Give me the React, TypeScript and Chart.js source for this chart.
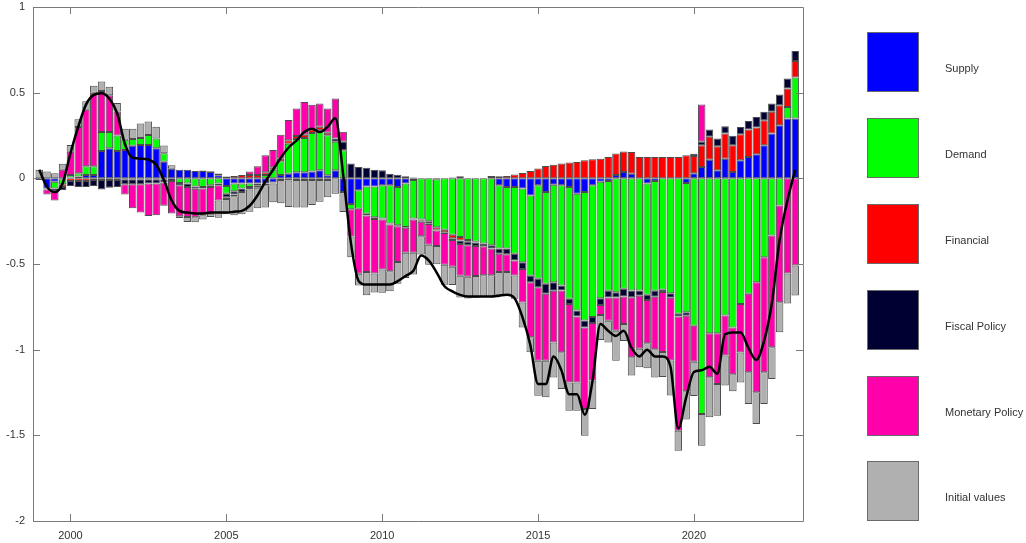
import React, { useEffect, useRef } from "react";
import { Chart, registerables } from "chart.js";

Chart.register(...registerables);

// Quarterly observations, 1999Q1 .. 2023Q2
const firstYear = 1999;
const quarterCount = 98;
const quarters: number[] = Array.from({ length: quarterCount }, (_, i) => firstYear + i * 0.25);

const seriesNames = ["Supply", "Demand", "Financial", "Fiscal Policy", "Monetary Policy", "Initial values"];
const seriesColors = ["#0000ff", "#00ff00", "#ff0000", "#000033", "#ff00aa", "#b0b0b0"];

const supply = [
  -0.01, -0.06, -0.02, -0.005, 0.005, 0.01, 0.02, 0.02, 0.16, 0.175,
  0.16, 0.165, 0.19, 0.195, 0.195, 0.175, 0.097, 0.056, 0.05, 0.05,
  0.043, 0.043, 0.037, 0.018, -0.045, -0.03, -0.03, -0.03, -0.03, -0.03,
  -0.025, 0.02, 0.027, 0.035, 0.035, 0.04, 0.047, 0.018, 0.047, -0.08,
  -0.15, -0.07, -0.047, -0.047, -0.04, -0.04, -0.05, -0.03, -0.01, 0,
  0, -0.005, 0, 0.005, 0.012, 0, 0, 0, 0.008, -0.04,
  -0.05, -0.05, -0.06, -0.1, -0.04, -0.08, -0.037, -0.04, -0.05, -0.09,
  -0.08, -0.04, -0.02, -0.016, 0.02, 0.037, 0.027, 0, -0.03, -0.016,
  0, 0, 0, -0.027, 0.03, 0.066, 0.109, 0.047, 0.115, 0.037,
  0.105, 0.125, 0.14, 0.193, 0.261, 0.31, 0.349, 0.349,
];

const demand = [
  0, 0, -0.04, -0.03, 0.015, 0.02, 0.05, 0.05, 0.11, 0.095,
  0.09, 0.06, 0.04, 0.04, 0.058, 0.058, 0.05, 0, -0.027, -0.03,
  -0.047, -0.05, -0.04, -0.03, -0.045, -0.045, -0.03, -0.02, -0.01, 0.02,
  0.05, 0.08, 0.175, 0.195, 0.2, 0.225, 0.234, 0.234, 0.166, 0.164,
  -0.03, -0.107, -0.16, -0.18, -0.195, -0.224, -0.224, -0.254, -0.225, -0.24,
  -0.25, -0.28, -0.3, -0.33, -0.343, -0.36, -0.37, -0.38, -0.39, -0.37,
  -0.36, -0.39, -0.43, -0.468, -0.546, -0.536, -0.57, -0.585, -0.653, -0.682,
  -0.75, -0.77, -0.68, -0.64, -0.665, -0.645, -0.655, -0.655, -0.65, -0.64,
  -0.65, -0.67, -0.79, -0.755, -0.86, -1.376, -0.904, -0.904, -0.8, -0.87,
  -0.733, -0.674, -0.606, -0.46, -0.333, -0.158, 0.068, 0.239,
];

const financial = [
  0, 0, -0.01, -0.015, -0.015, -0.015, -0.015, -0.01, -0.01, -0.01,
  -0.01, -0.005, -0.005, -0.005, -0.005, -0.005, -0.005, 0, 0, 0,
  0, 0.003, 0.005, 0.01, 0.01, 0.014, 0.02, 0.02, 0.02, 0.015,
  0.015, 0.015, 0.02, 0.017, 0.02, 0.02, 0.02, 0.014, 0, 0,
  0, 0, -0.01, -0.01, -0.005, -0.005, -0.005, -0.005, -0.005, -0.005,
  -0.012, -0.015, -0.014, -0.02, -0.02, -0.01, -0.005, 0, 0.005, 0.012,
  0.014, 0.023, 0.031, 0.043, 0.057, 0.072, 0.08, 0.086, 0.092, 0.096,
  0.105, 0.111, 0.115, 0.125, 0.125, 0.12, 0.127, 0.125, 0.125, 0.125,
  0.125, 0.125, 0.125, 0.135, 0.1, 0.127, 0.133, 0.14, 0.146, 0.156,
  0.152, 0.16, 0.156, 0.146, 0.127, 0.117, 0.107, 0.097,
];

const fiscal = [
  0, -0.005, -0.01, -0.02, -0.03, -0.035, -0.035, -0.035, -0.055, -0.045,
  -0.04, -0.03, -0.03, -0.03, -0.025, -0.025, -0.02, -0.015, -0.014, -0.02,
  -0.014, -0.01, -0.01, -0.01, -0.02, -0.02, -0.02, -0.015, -0.015, -0.01,
  -0.005, -0.01, -0.012, -0.01, -0.01, -0.01, -0.01, -0.01, 0.02, 0.05,
  0.086, 0.066, 0.062, 0.05, 0.047, 0.027, 0.021, 0.012, 0.005, -0.008,
  -0.005, -0.005, -0.005, -0.01, -0.02, -0.02, -0.02, -0.016, -0.02, -0.03,
  -0.033, -0.039, -0.039, -0.039, -0.049, -0.058, -0.049, -0.03, -0.03, -0.035,
  -0.04, -0.035, -0.04, -0.039, -0.03, -0.045, -0.039, -0.03, -0.03, -0.035,
  -0.014, -0.027, -0.016, -0.02, 0.014, 0.02, 0.043, 0.045, 0.043, 0.055,
  0.043, 0.049, 0.062, 0.049, 0.049, 0.062, 0.058, 0.058,
];

const monetary = [
  0, -0.03, -0.05, 0.05, 0.135, 0.27, 0.33, 0.43, 0.24, 0.215,
  0.14, -0.06, -0.14, -0.165, -0.19, -0.185, -0.135, -0.19, -0.18, -0.175,
  -0.166, -0.156, -0.156, -0.09, -0.01, -0.01, 0, 0.02, 0.05, 0.1,
  0.1, 0.14, 0.118, 0.16, 0.19, 0.145, 0.136, 0.142, 0.233, 0.058,
  -0.16, -0.38, -0.33, -0.318, -0.292, -0.273, -0.21, -0.146, -0.195, -0.085,
  -0.12, -0.09, -0.185, -0.156, -0.185, -0.185, -0.175, -0.17, -0.156, -0.107,
  -0.103, -0.088, -0.195, -0.32, -0.429, -0.39, -0.302, -0.36, -0.458, -0.384,
  -0.477, -0.335, -0.058, -0.136, -0.195, -0.16, -0.35, -0.31, -0.253, -0.306,
  -0.35, -0.366, -0.667, -0.44, -0.21, 0.218, -0.257, -0.296, -0.234, -0.273,
  -0.283, -0.458, -0.643, -0.672, -0.653, -0.565, -0.556, -0.509,
];

const initialValues = [
  0.05, 0.04, 0.03, 0.035, 0.04, 0.045, 0.05, 0.04, 0.055, 0.05,
  0.05, 0.065, 0.06, 0.085, 0.078, 0.068, 0.045, 0.02, -0.01, -0.03,
  -0.03, -0.025, -0.02, -0.1, -0.09, -0.11, -0.13, -0.13, -0.12, -0.13,
  -0.11, -0.135, -0.156, -0.16, -0.16, -0.145, -0.127, -0.1, -0.09, -0.117,
  -0.12, -0.068, -0.136, -0.111, -0.136, -0.117, -0.127, -0.146, -0.127, -0.107,
  -0.117, -0.107, -0.117, -0.107, -0.127, -0.127, -0.127, -0.127, -0.127, -0.136,
  -0.136, -0.136, -0.146, -0.088, -0.205, -0.214, -0.205, -0.214, -0.166, -0.166,
  -0.156, -0.166, -0.146, -0.127, -0.175, -0.1, -0.107, -0.107, -0.146, -0.166,
  -0.146, -0.205, -0.117, -0.166, -0.2, -0.185, -0.234, -0.185, -0.175, -0.1,
  -0.175, -0.185, -0.185, -0.185, -0.185, -0.175, -0.175, -0.175,
];

const totalLine = [
  0.05, -0.05, -0.08, -0.03, 0.145, 0.3, 0.43, 0.487, 0.497, 0.465,
  0.38, 0.2, 0.12, 0.115, 0.11, 0.08, -0.01, -0.13, -0.19, -0.2,
  -0.205, -0.205, -0.2, -0.2, -0.2, -0.195, -0.19, -0.16, -0.1, -0.02,
  0.05, 0.12, 0.18, 0.22, 0.27, 0.29, 0.27, 0.3, 0.35, 0.02,
  -0.38, -0.6, -0.62, -0.62, -0.62, -0.62, -0.6, -0.57, -0.54, -0.45,
  -0.48, -0.55, -0.63, -0.66, -0.68, -0.69, -0.69, -0.69, -0.69, -0.685,
  -0.68, -0.7, -0.81, -0.97, -1.2, -1.2, -1.04, -1.12, -1.26, -1.26,
  -1.38, -1.18, -0.85, -0.89, -0.92, -0.89, -0.99, -1.04, -1.0, -1.04,
  -1.04, -1.1, -1.46, -1.28, -1.13, -1.12, -1.1, -1.14, -0.91, -0.9,
  -0.9, -0.99, -1.06, -0.95, -0.73, -0.36, -0.13, 0.05,
];

const seriesValues = [supply, demand, financial, fiscal, monetary, initialValues];

const yTickValues = [-2, -1.5, -1, -0.5, 0, 0.5, 1];
const xTickValues = [2000, 2005, 2010, 2015, 2020];
const xMin = 1998.8;
const xMax = 2023.5;

const AXIS_COLOR = "#7a7a7a";
const TEXT_COLOR = "#333333";
const FONT = "'Liberation Sans', Arial, Helvetica, sans-serif";

const boxPlugin = {
  id: "matlabBox",
  afterDatasetsDraw(chart: any) {
    const { ctx, chartArea: a, scales } = chart;
    const x = scales.x;
    const y = scales.y;
    const tl = 7;
    ctx.save();
    ctx.strokeStyle = AXIS_COLOR;
    ctx.lineWidth = 1;
    ctx.beginPath();
    ctx.rect(Math.round(a.left) + 0.5, Math.round(a.top) + 0.5, Math.round(a.right - a.left), Math.round(a.bottom - a.top));
    yTickValues.forEach((v) => {
      const py = Math.round(y.getPixelForValue(v)) + 0.5;
      ctx.moveTo(a.left, py);
      ctx.lineTo(a.left + tl, py);
      ctx.moveTo(a.right, py);
      ctx.lineTo(a.right - tl, py);
    });
    xTickValues.forEach((v) => {
      const px = Math.round(x.getPixelForValue(v)) + 0.5;
      ctx.moveTo(px, a.bottom);
      ctx.lineTo(px, a.bottom - tl);
      ctx.moveTo(px, a.top);
      ctx.lineTo(px, a.top + tl);
    });
    ctx.stroke();
    ctx.restore();
  },
};

const legendTops = [32, 118, 204, 290, 376, 461];

export default function App() {
  const canvasRef = useRef<HTMLCanvasElement | null>(null);

  useEffect(() => {
    const canvas = canvasRef.current;
    if (!canvas) return;

    const barSets = seriesNames.map((name, k) => ({
      type: "bar" as const,
      label: name,
      data: quarters.map((q, i) => ({ x: q, y: seriesValues[k][i] })),
      backgroundColor: seriesColors[k],
      borderColor: "rgba(30,30,30,0.8)",
      borderWidth: 1,
      borderSkipped: false as const,
      barPercentage: 0.96,
      categoryPercentage: 1,
      order: 1,
    }));

    const lineSet = {
      type: "line" as const,
      label: "Total",
      data: quarters.map((q, i) => ({ x: q, y: totalLine[i] })),
      borderColor: "#000000",
      borderWidth: 2.5,
      pointRadius: 0,
      fill: false,
      cubicInterpolationMode: "monotone" as const,
      stack: "total",
      order: 0,
    };

    const chart = new Chart(canvas, {
      type: "bar",
      data: { datasets: [...barSets, lineSet] as any },
      options: {
        responsive: false,
        devicePixelRatio: 1,
        animation: false,
        layout: { padding: { left: 0, right: 223, top: 0, bottom: 0 } },
        plugins: {
          legend: { display: false },
          tooltip: { enabled: false },
        },
        scales: {
          x: {
            type: "linear",
            min: xMin,
            max: xMax,
            stacked: true,
            offset: false,
            grid: { display: false, drawTicks: false },
            border: { display: false },
            afterBuildTicks: (s: any) => {
              s.ticks = xTickValues.map((v) => ({ value: v }));
            },
            afterFit: (s: any) => {
              s.height = 22;
            },
            ticks: {
              padding: 8,
              color: TEXT_COLOR,
              font: { family: FONT, size: 11 },
              maxRotation: 0,
              autoSkip: false,
              callback: (v: any) => String(v),
            },
          },
          y: {
            type: "linear",
            min: -2,
            max: 1,
            stacked: true,
            grid: { display: false, drawTicks: false },
            border: { display: false },
            afterBuildTicks: (s: any) => {
              s.ticks = yTickValues.map((v) => ({ value: v }));
            },
            afterFit: (s: any) => {
              s.width = 33;
              s.paddingTop = 7;
              s.paddingBottom = 0;
            },
            ticks: {
              padding: 8,
              color: TEXT_COLOR,
              font: { family: FONT, size: 11 },
              callback: (v: any) => String(v),
            },
          },
        },
      },
      plugins: [boxPlugin],
    });

    return () => chart.destroy();
  }, []);

  return (
    <div style={{ position: "fixed", left: 0, top: 0, width: 1026, height: 543, background: "#ffffff" }}>
      <canvas ref={canvasRef} width={1026} height={543} style={{ position: "absolute", left: 0, top: 0 }} />
      {seriesNames.map((name, k) => (
        <React.Fragment key={name}>
          <div
            style={{
              position: "absolute",
              left: 867,
              top: legendTops[k],
              width: 50,
              height: 58,
              background: seriesColors[k],
              border: "1px solid #6a6a6a",
            }}
          />
          <div
            style={{
              position: "absolute",
              left: 945,
              top: legendTops[k] + 29,
              height: 14,
              lineHeight: "14px",
              fontFamily: FONT,
              fontSize: 11,
              color: TEXT_COLOR,
              whiteSpace: "nowrap",
            }}
          >
            {name}
          </div>
        </React.Fragment>
      ))}
    </div>
  );
}
